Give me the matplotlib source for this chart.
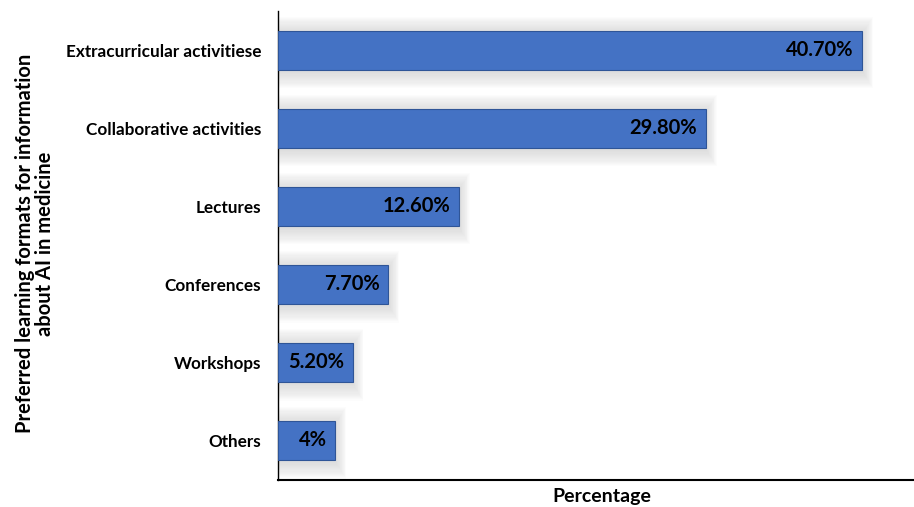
import matplotlib.pyplot as plt

# Data (bottom to top)
categories = ["Others", "Workshops", "Conferences", "Lectures",
              "Collaborative activities", "Extracurricular activitiese"]
values = [4.0, 5.2, 7.7, 12.6, 29.8, 40.7]
labels = ["4%", "5.20%", "7.70%", "12.60%", "29.80%", "40.70%"]

plt.rcParams["font.family"] = ["Lato", "DejaVu Sans"]

fig = plt.figure(figsize=(9.14, 5.07), dpi=100)
ax = fig.add_axes([0.304, 0.053, 0.696, 0.925])

y = list(range(len(categories)))

# soft shadow behind the bars
for k in range(1, 15):
    ax.barh([p - 0.03 for p in y], [v + 0.05 * k for v in values],
            height=0.5 + 0.03 * k, left=0.05,
            color="#8a8a8a", alpha=0.018, linewidth=0, zorder=1)

ax.barh(y, values, height=0.5, color="#4472C4", edgecolor="#2F5597",
        linewidth=0.8, zorder=3)

for yi, v, lab in zip(y, values, labels):
    ax.text(v - 0.6, yi, lab, ha="right", va="center", fontsize=14.5,
            fontweight="bold", color="black", zorder=4)

ax.set_xlim(0, 44.3)
ax.set_ylim(-0.51, 5.5)
ax.set_yticks(y)
ax.set_yticklabels(categories, fontsize=12.3, fontweight="bold")
ax.tick_params(axis="y", length=0, pad=12)
ax.set_xticks([])

for s in ["top", "right"]:
    ax.spines[s].set_visible(False)
ax.spines["left"].set_linewidth(1.0)
ax.spines["bottom"].set_linewidth(1.5)

ax.set_xlabel("Percentage", fontsize=14, fontweight="bold")
ax.xaxis.set_label_coords(0.51, -0.016)
fig.text(0.038, 0.52, "Preferred learning formats for information\nabout AI in medicine",
         rotation=90, ha="center", va="center", fontsize=14.5,
         fontweight="bold", multialignment="center", linespacing=1.0)

fig.savefig("out.png", dpi=100)
